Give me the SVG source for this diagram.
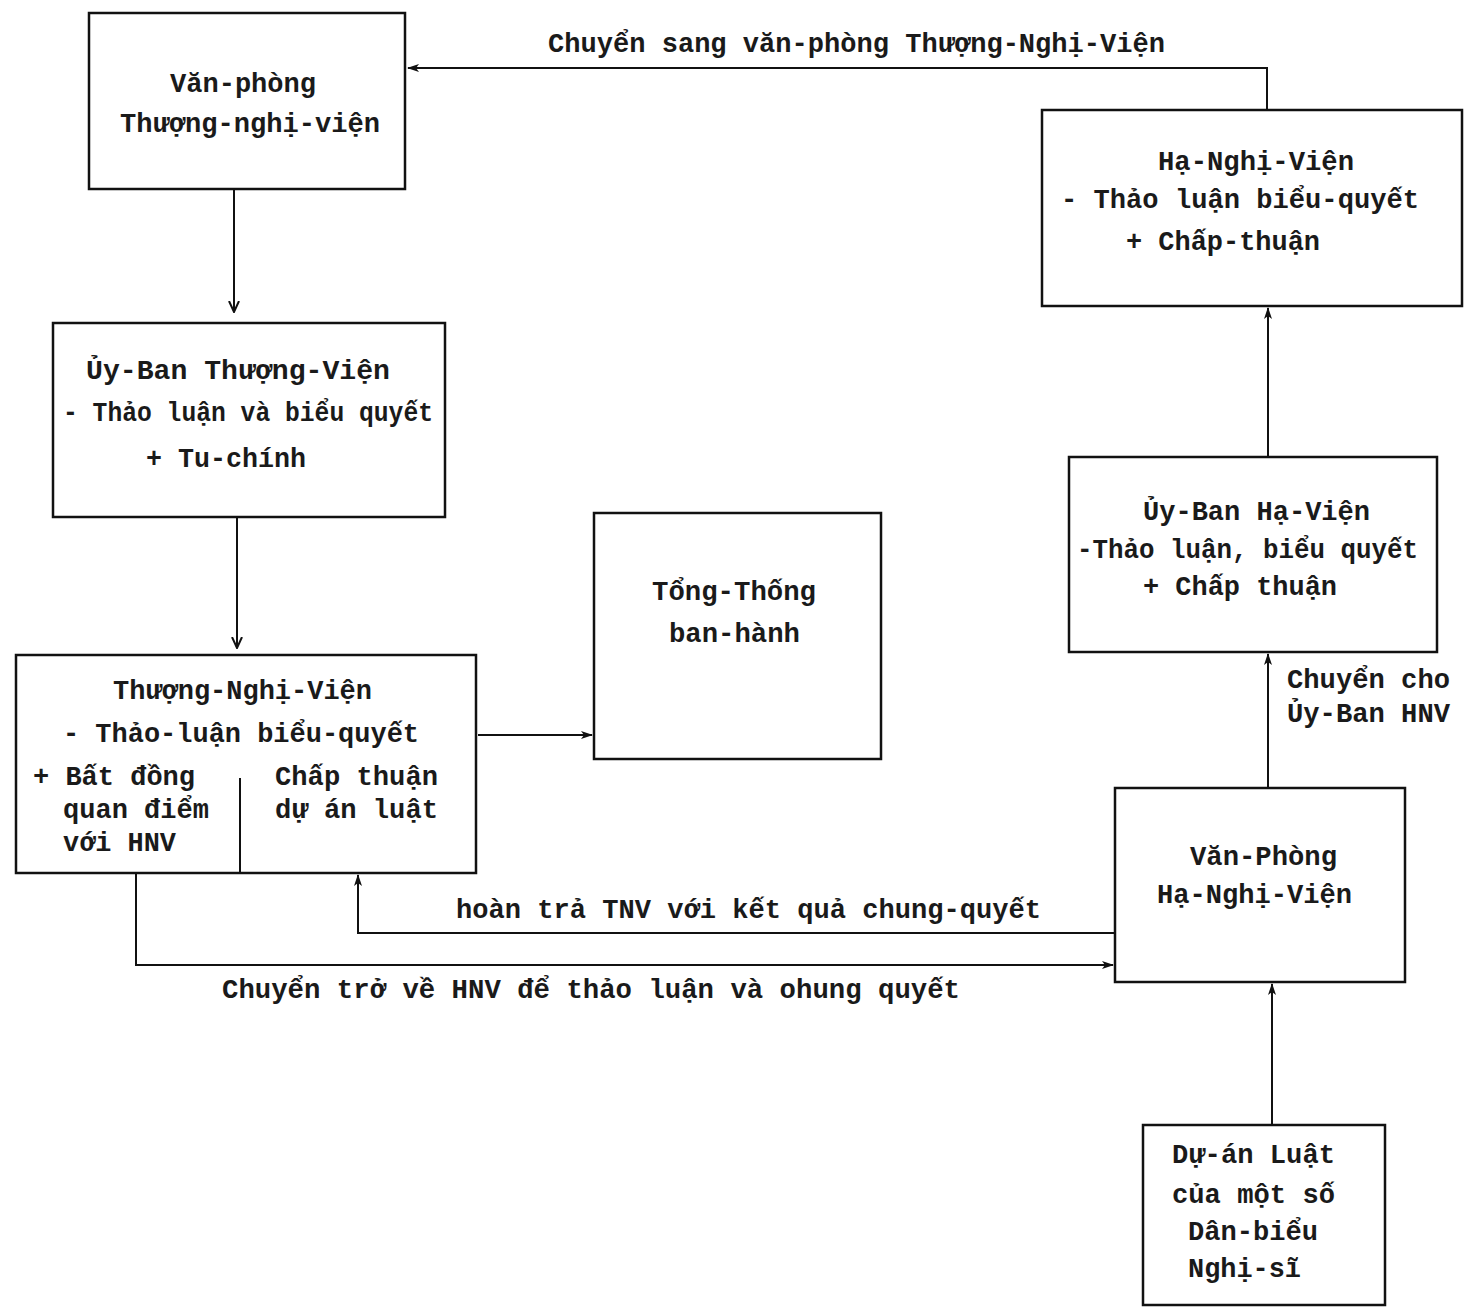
<svg xmlns="http://www.w3.org/2000/svg" width="1469" height="1309" viewBox="0 0 1469 1309">
<style>
  .box { fill: #ffffff; stroke: #111; stroke-width: 2.5; }
  .t { font-family: "Liberation Mono", "DejaVu Sans Mono", monospace; font-size: 27px; font-weight: bold; fill: #1a1a1a; }
  .c { fill: none; stroke: #111; stroke-width: 2; }
</style>
<defs>
  <marker id="ah" viewBox="0 0 12 10" refX="11" refY="5" markerWidth="12" markerHeight="10" markerUnits="userSpaceOnUse" orient="auto">
    <path d="M0,1 L12,5 L0,9 L3,5 Z" fill="#111"/>
  </marker>
  <marker id="av" viewBox="0 0 12 12" refX="11" refY="6" markerWidth="12" markerHeight="12" markerUnits="userSpaceOnUse" orient="auto">
    <path d="M0,1 L11,6 L0,11" fill="none" stroke="#111" stroke-width="2"/>
  </marker>
</defs>
<rect width="1469" height="1309" fill="#ffffff"/>

<g id="connectors">
  <path class="c" d="M1267,110 L1267,68 L408,68" marker-end="url(#ah)"/>
  <path class="c" d="M234,189 L234,312" marker-end="url(#av)"/>
  <path class="c" d="M237,517 L237,648" marker-end="url(#av)"/>
  <path class="c" d="M478,735 L592,735" marker-end="url(#ah)"/>
  <path class="c" d="M1268,457 L1268,308" marker-end="url(#ah)"/>
  <path class="c" d="M1268,788 L1268,654" marker-end="url(#ah)"/>
  <path class="c" d="M1272,1125 L1272,984" marker-end="url(#ah)"/>
  <path class="c" d="M1115,933 L358,933 L358,875" marker-end="url(#ah)"/>
  <path class="c" d="M136,873 L136,965 L1113,965" marker-end="url(#ah)"/>
  <text class="t" x="548" y="52" textLength="617" lengthAdjust="spacingAndGlyphs">Chuyển sang văn-phòng Thượng-Nghị-Viện</text>
  <text class="t" x="1287" y="688" textLength="163" lengthAdjust="spacingAndGlyphs">Chuyển cho</text>
  <text class="t" x="1287" y="722" textLength="163" lengthAdjust="spacingAndGlyphs">Ủy-Ban HNV</text>
  <text class="t" x="456" y="918" textLength="585" lengthAdjust="spacingAndGlyphs">hoàn trả TNV với kết quả chung-quyết</text>
  <text class="t" x="222" y="998" textLength="738" lengthAdjust="spacingAndGlyphs">Chuyển trở về HNV để thảo luận và ohung quyết</text>
</g>

<g id="van-phong-tnv">
  <rect class="box" x="89" y="13" width="316" height="176"/>
  <text class="t" x="170" y="92" textLength="146" lengthAdjust="spacingAndGlyphs">Văn-phòng</text>
  <text class="t" x="120" y="132" textLength="260" lengthAdjust="spacingAndGlyphs">Thượng-nghị-viện</text>
</g>

<g id="ha-nghi-vien">
  <rect class="box" x="1042" y="110" width="420" height="196"/>
  <text class="t" x="1158" y="170" textLength="196" lengthAdjust="spacingAndGlyphs">Hạ-Nghị-Viện</text>
  <text class="t" x="1061" y="208" textLength="358" lengthAdjust="spacingAndGlyphs">- Thảo luận biểu-quyết</text>
  <text class="t" x="1126" y="250" textLength="194" lengthAdjust="spacingAndGlyphs">+ Chấp-thuận</text>
</g>

<g id="uy-ban-thuong-vien">
  <rect class="box" x="53" y="323" width="392" height="194"/>
  <text class="t" x="86" y="379" textLength="304" lengthAdjust="spacingAndGlyphs">Ủy-Ban Thượng-Viện</text>
  <text class="t" x="63" y="421" textLength="370" lengthAdjust="spacingAndGlyphs">- Thảo luận và biểu quyết</text>
  <text class="t" x="146" y="467" textLength="160" lengthAdjust="spacingAndGlyphs">+ Tu-chính</text>
</g>

<g id="uy-ban-ha-vien">
  <rect class="box" x="1069" y="457" width="368" height="195"/>
  <text class="t" x="1143" y="520" textLength="227" lengthAdjust="spacingAndGlyphs">Ủy-Ban Hạ-Viện</text>
  <text class="t" x="1077" y="558" textLength="341" lengthAdjust="spacingAndGlyphs">-Thảo luận, biểu quyết</text>
  <text class="t" x="1143" y="595" textLength="194" lengthAdjust="spacingAndGlyphs">+ Chấp thuận</text>
</g>

<g id="tong-thong">
  <rect class="box" x="594" y="513" width="287" height="246"/>
  <text class="t" x="652" y="600" textLength="164" lengthAdjust="spacingAndGlyphs">Tổng-Thống</text>
  <text class="t" x="669" y="642" textLength="131" lengthAdjust="spacingAndGlyphs">ban-hành</text>
</g>

<g id="thuong-nghi-vien">
  <rect class="box" x="16" y="655" width="460" height="218"/>
  <line x1="240" y1="778" x2="240" y2="873" stroke="#111" stroke-width="2"/>
  <text class="t" x="113" y="699" textLength="259" lengthAdjust="spacingAndGlyphs">Thượng-Nghị-Viện</text>
  <text class="t" x="63" y="742" textLength="356" lengthAdjust="spacingAndGlyphs">- Thảo-luận biểu-quyết</text>
  <text class="t" x="33" y="785" textLength="162" lengthAdjust="spacingAndGlyphs">+ Bất đồng</text>
  <text class="t" x="63" y="818" textLength="146" lengthAdjust="spacingAndGlyphs">quan điểm</text>
  <text class="t" x="63" y="851" textLength="113" lengthAdjust="spacingAndGlyphs">với HNV</text>
  <text class="t" x="275" y="785" textLength="163" lengthAdjust="spacingAndGlyphs">Chấp thuận</text>
  <text class="t" x="275" y="818" textLength="163" lengthAdjust="spacingAndGlyphs">dự án luật</text>
</g>

<g id="van-phong-hnv">
  <rect class="box" x="1115" y="788" width="290" height="194"/>
  <text class="t" x="1190" y="865" textLength="147" lengthAdjust="spacingAndGlyphs">Văn-Phòng</text>
  <text class="t" x="1157" y="903" textLength="195" lengthAdjust="spacingAndGlyphs">Hạ-Nghị-Viện</text>
</g>

<g id="du-an-luat">
  <rect class="box" x="1143" y="1125" width="242" height="180"/>
  <text class="t" x="1172" y="1163" textLength="163" lengthAdjust="spacingAndGlyphs">Dự-án Luật</text>
  <text class="t" x="1172" y="1203" textLength="163" lengthAdjust="spacingAndGlyphs">của một số</text>
  <text class="t" x="1188" y="1240" textLength="130" lengthAdjust="spacingAndGlyphs">Dân-biểu</text>
  <text class="t" x="1188" y="1277" textLength="113" lengthAdjust="spacingAndGlyphs">Nghị-sĩ</text>
</g>
</svg>
